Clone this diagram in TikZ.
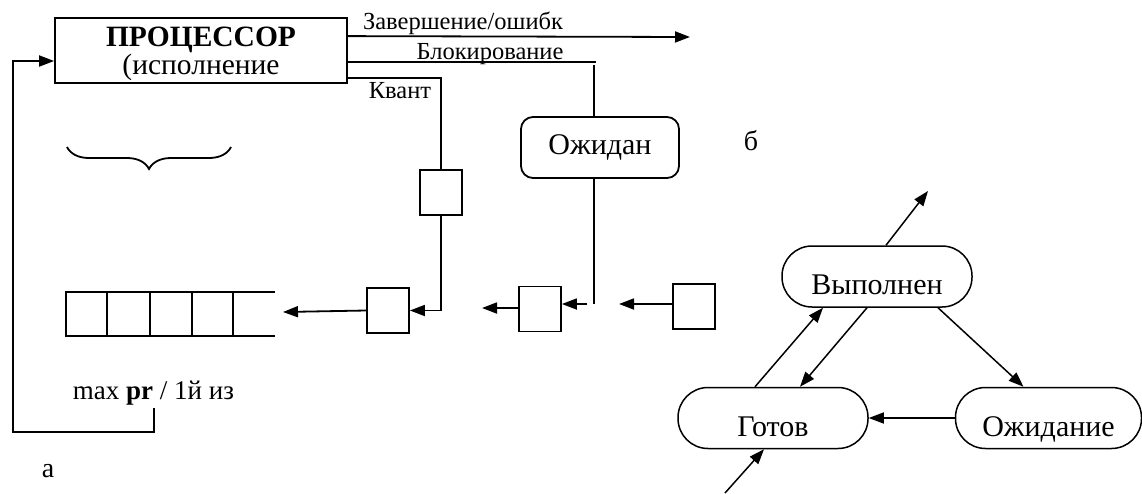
\documentclass[tikz,border=0pt]{standalone}
\usepackage{fontspec}
\setmainfont{Liberation Serif}
\usetikzlibrary{arrows.meta,calc,decorations.pathreplacing}
\begin{document}
\begin{tikzpicture}[x=1pt,y=-1pt,line width=1.8pt,
  tip/.style={-{Triangle[length=15pt,width=11pt]}},
  cell/.style={draw,minimum width=42pt,minimum height=45pt,inner sep=0pt},
  lbl/.style={inner sep=0pt,font=\fontsize{24.5}{26}\selectfont},
  big/.style={font=\fontsize{30}{32}\selectfont},
  state/.style={draw,rounded corners=30pt,minimum width=190pt,minimum height=61pt,
    inner sep=0pt,text height=36pt,text depth=0pt,line width=1.5pt,
    font=\fontsize{30}{32}\selectfont},
  thin/.style={line width=1.5pt}]
\useasboundingbox (0,0) rectangle (1142,493);

% processor and its exits
\node[draw,minimum width=292pt,minimum height=65pt,inner sep=0pt] (P) at (201,50.5) {};
\node[inner sep=0pt,align=center,font=\fontsize{29.5}{25}\selectfont] (Pt) at (201,54)
  {\bfseries ПРОЦЕССОР\\(исполнение};
\coordinate (done) at (690,37);
\draw[tip] ($(P.north east)+(0,19)$) -- (done);
\node[lbl,anchor=base] (lfin) at (463,29) {Завершение/ошибк};
\node[lbl,anchor=base] (lblk) at (490,59) {Блокирование};
\node[lbl,anchor=base] (lq) at (400,98) {Квант};

% quantum path
\node[cell] (Q0) at (441,192.5) {};
\node[cell] (Q1) at (388,310.5) {};
\draw ($(P.south east)+(0,-6)$) -| (Q0.north);
\draw[tip] (Q0.south) |- (Q1.east);

% ready queue
\coordinate (qin) at (283,312);
\draw (275,292) -- (66,292) -- (66,336) -- (275,336);
\foreach \x in {107,150,192,233} \draw (\x,292) -- (\x,336);
\draw[tip] (Q1.west) -- (qin);

% blocking path
\node[draw,rounded corners=12pt,minimum width=158pt,minimum height=61pt,big] (W) at (600,147.5) {Ожидан};
\draw ($(P.east)+(0,11.5)$) -- (596,62);
\draw (594,65) -- (594,117);
\draw (594,178) -- (594,304);
\node[cell] (Q2) at (540,309) {};
\coordinate (wk) at (587,304);
\draw[tip] (wk) -- ($(Q2.east)+(0,-5)$);
\coordinate (q2out) at (482,308);
\draw[tip] ($(Q2.west)+(0,-1)$) -- (q2out);
\node[cell] (Q3) at (694,306.5) {};
\coordinate (q3out) at (619,304);
\draw[tip] ($(Q3.west)+(0,-2.5)$) -- (q3out);

% selection back to the processor
\node[lbl,anchor=base,font=\fontsize{27}{28}\selectfont] (sel) at (153.5,399) {max \textbf{pr} / 1й из};
\draw[tip] (154,408) -- (154,432) -- (13,432) |- ($(P.west)+(0,10.5)$);
\draw[decorate,decoration={brace,amplitude=22pt}] (231,147) -- (67,147);

\node[lbl,font=\fontsize{28}{28}\selectfont] (la) at (48,471) {а};
\node[lbl,font=\fontsize{28}{28}\selectfont] (lb) at (751,141) {б};

% state diagram
\node[state] (R) at (877,276.5) {Выполнен};
\node[state] (G) at (773,418) {Готов};
\node[state,minimum width=186pt] (S) at (1048.5,418) {Ожидание};
\coordinate (exit) at (928,191);
\coordinate (enter) at (725,493);
\begin{scope}[thin,tip]
\draw ($(R.north)+(9,0)$) -- (exit);
\draw ($(G.north)+(-18,0)$) -- ($(R.south)+(-54,0)$);
\draw ($(R.south)+(-10,0)$) -- ($(G.north)+(27,0)$);
\draw ($(R.south)+(61,0)$) -- ($(S.north)+(-25,0)$);
\draw (S.west) -- (G.east);
\draw (enter) -- ($(G.south)+(-9,0)$);
\end{scope}
\end{tikzpicture}
\end{document}
